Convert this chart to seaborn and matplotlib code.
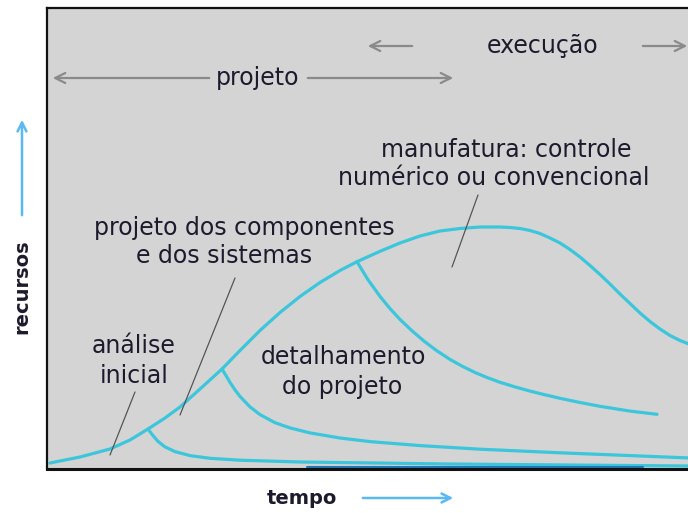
import matplotlib
matplotlib.use("Agg")
import matplotlib.pyplot as plt
import seaborn as sns

# eixo horizontal: tempo, eixo vertical: recursos (unidades do gráfico)
tempo_total = [3, 33, 63, 83, 101, 118, 133, 153, 175, 193, 213, 233, 253, 273, 293,
               310, 333, 353, 373, 393, 413, 433, 453, 463, 473, 483, 493, 503, 513,
               523, 533, 543, 553, 563, 573, 583, 593, 603, 613, 623, 633, 641]
recursos_total = [6, 12, 20, 29, 40, 51, 62, 80, 100, 118.5, 138.5, 156.5, 172.5, 186.5,
                  198.5, 207.3, 217.7, 226, 233, 238, 240.5, 242, 242, 241.5, 240.5,
                  238.5, 235.5, 231, 226, 219.5, 212, 203.5, 194.5, 185, 175, 165.5, 156,
                  147.5, 140, 133.5, 128.5, 125.3]

tempo_sistemas = [310, 321, 333, 343, 353, 365, 378, 390, 403, 415, 428, 440, 453,
                  468, 483, 498, 513, 533, 553, 583, 610]
recursos_sistemas = [207.3, 189.3, 172.6, 160.4, 149.6, 138.2, 127.1, 118.1, 109.6, 102.9,
                     96.5, 91.5, 86.7, 82.1, 77.9, 74.2, 70.7, 66.5, 62.7, 57.9, 54.7]

tempo_detalhe = [175, 179, 183, 188, 193, 203, 213, 228, 243, 263, 293, 323, 373, 433,
                 513, 641]
recursos_detalhe = [100, 93.4, 86.6, 79.1, 72.6, 62.1, 54.4, 46.3, 41.1, 36.1, 31, 27.4,
                    23.4, 19.8, 16.2, 11.1]

tempo_analise = [101, 105, 111, 118, 128, 143, 163, 193, 253, 403, 641]
recursos_analise = [40, 34.6, 27.6, 22.1, 17.4, 13.4, 10.7, 8.8, 7, 5, 3]

sns.set_style("white")
plt.rcParams['font.family'] = ['DejaVu Sans']

fig = plt.figure(figsize=(6.88, 5.13), dpi=100)
ax = fig.add_axes([47 / 688, 44 / 513, 641 / 688, 461 / 513])
ax.set_facecolor('#d4d4d4')

curva = '#3cc6dc'
for xs, ys in [(tempo_total, recursos_total), (tempo_sistemas, recursos_sistemas),
               (tempo_detalhe, recursos_detalhe), (tempo_analise, recursos_analise)]:
    sns.lineplot(x=xs, y=ys, ax=ax, color=curva, lw=2.3, sort=False)
ax.plot([260, 596], [2.5, 2.5], color='#1f78b4', lw=1.5)

ax.set_xlim(0, 641)
ax.set_ylim(0, 461)
ax.set_xticks([])
ax.set_yticks([])
for lado in ['left', 'top', 'bottom']:
    ax.spines[lado].set_color('#111111')
    ax.spines[lado].set_linewidth(1.6)
ax.spines['bottom'].set_linewidth(2.2)
ax.spines['right'].set_visible(False)

txt = '#1e1a2e'
fs = 17
ax.text(211, 391, 'projeto', fontsize=fs, color=txt, ha='center', va='center')
ax.text(496, 423, 'execução', fontsize=fs, color=txt, ha='center', va='center')
ax.text(459, 319, 'manufatura: controle', fontsize=fs, color=txt, ha='center', va='center')
ax.text(447, 291, 'numérico ou convencional', fontsize=fs, color=txt, ha='center', va='center')
ax.text(197, 241, 'projeto dos componentes', fontsize=fs, color=txt, ha='center', va='center')
ax.text(177, 213, 'e dos sistemas', fontsize=fs, color=txt, ha='center', va='center')
ax.text(87, 123, 'análise', fontsize=fs, color=txt, ha='center', va='center')
ax.text(87, 93, 'inicial', fontsize=fs, color=txt, ha='center', va='center')
ax.text(296, 112, 'detalhamento', fontsize=fs, color=txt, ha='center', va='center')
ax.text(295, 82, 'do projeto', fontsize=fs, color=txt, ha='center', va='center')

# setas cinzentas das fases
cinza = '#8a8a8a'
seta = dict(arrowstyle='->', color=cinza, lw=1.6, mutation_scale=18)
for ini, fim in [((165, 391), (3, 391)), ((258, 391), (409, 391)),
                 ((368, 423), (318, 423)), ((593, 423), (643, 423))]:
    ax.annotate('', xy=fim, xytext=ini, arrowprops=seta, annotation_clip=False)

# linhas de chamada
for (x0, y0), (x1, y1) in [((88, 77), (63, 14)), ((188, 191), (133, 54)),
                           ((431, 274), (405, 202))]:
    ax.plot([x0, x1], [y0, y1], color='#555555', lw=0.9)

# eixos com setas azuis
azul = '#5ab8f2'
ax.text(-25, 182, 'recursos', fontsize=14, fontweight='bold', color=txt,
        rotation=90, ha='center', va='center')
ax.annotate('', xy=(-25, 352), xytext=(-25, 251),
            arrowprops=dict(arrowstyle='->', color=azul, lw=1.8, mutation_scale=16),
            annotation_clip=False)
ax.text(255, -29, 'tempo', fontsize=14, fontweight='bold', color=txt,
        ha='center', va='center')
ax.annotate('', xy=(409, -29), xytext=(313, -29),
            arrowprops=dict(arrowstyle='->', color=azul, lw=1.8, mutation_scale=16),
            annotation_clip=False)

fig.savefig('out.png', dpi=100)
